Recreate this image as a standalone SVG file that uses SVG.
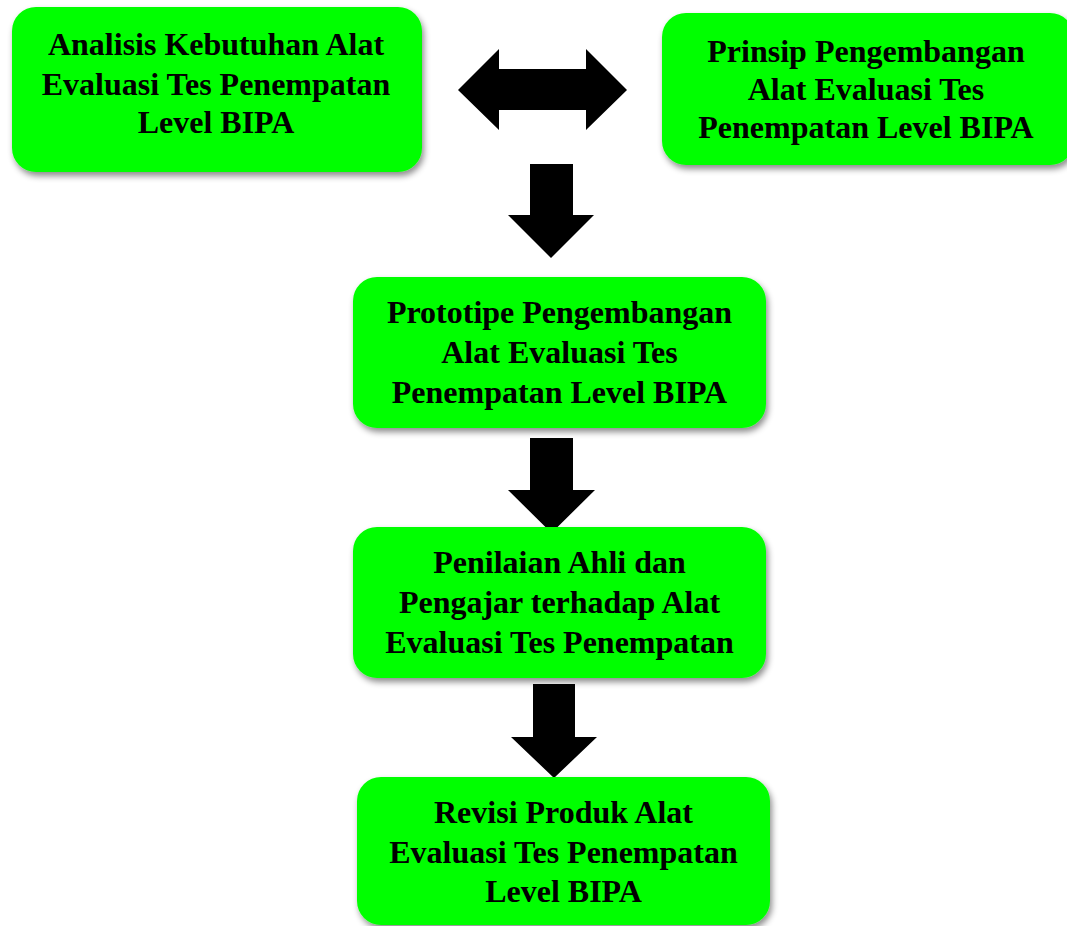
<svg xmlns="http://www.w3.org/2000/svg" width="1067" height="926" viewBox="0 0 1067 926">
<defs>
<filter id="sh" x="-10%" y="-10%" width="125%" height="130%">
<feDropShadow dx="2" dy="4" stdDeviation="3" flood-color="#000" flood-opacity="0.45"/>
</filter>
<style>
.box{fill:#00FF00;filter:url(#sh)}
.t{font-family:"Liberation Serif","Times New Roman",serif;font-weight:bold;font-size:32px;fill:#000;text-anchor:middle}
.arr{fill:#000}
</style>
</defs>
<rect width="1067" height="926" fill="#fff"/>
<g id="connectors">
<polygon class="arr" points="458,90 499,49 499,69 586,69 586,49 627,90 586,130 586,110 499,110 499,130"/>
<polygon class="arr" points="530,164 573,164 573,215 594,215 551,258 508,215 530,215"/>
<polygon class="arr" points="530,438 573,438 573,490 595,490 551.5,533 508,490 530,490"/>
<polygon class="arr" points="533,684 575,684 575,737 597,737 554,778 511,737 533,737"/>
</g>
<g id="n1">
<rect class="box" x="12" y="7" width="410" height="165" rx="24"/>
<text class="t" x="216" y="55">Analisis Kebutuhan Alat</text>
<text class="t" x="216" y="95">Evaluasi Tes Penempatan</text>
<text class="t" x="216" y="133">Level BIPA</text>
</g>
<g id="n2">
<rect class="box" x="662" y="13" width="412" height="152" rx="24"/>
<text class="t" x="866" y="62">Prinsip Pengembangan</text>
<text class="t" x="866" y="100">Alat Evaluasi Tes</text>
<text class="t" x="866" y="138">Penempatan Level BIPA</text>
</g>
<g id="n3">
<rect class="box" x="353" y="277" width="413" height="151" rx="24"/>
<text class="t" x="559.5" y="323">Prototipe Pengembangan</text>
<text class="t" x="559.5" y="363">Alat Evaluasi Tes</text>
<text class="t" x="559.5" y="403">Penempatan Level BIPA</text>
</g>
<g id="n4">
<rect class="box" x="353" y="527" width="413" height="151" rx="24"/>
<text class="t" x="559.5" y="573">Penilaian Ahli dan</text>
<text class="t" x="559.5" y="613">Pengajar terhadap Alat</text>
<text class="t" x="559.5" y="653">Evaluasi Tes Penempatan</text>
</g>
<g id="n5">
<rect class="box" x="357" y="777" width="413" height="148" rx="24"/>
<text class="t" x="563.5" y="823">Revisi Produk Alat</text>
<text class="t" x="563.5" y="863">Evaluasi Tes Penempatan</text>
<text class="t" x="563.5" y="902">Level BIPA</text>
</g>
</svg>
